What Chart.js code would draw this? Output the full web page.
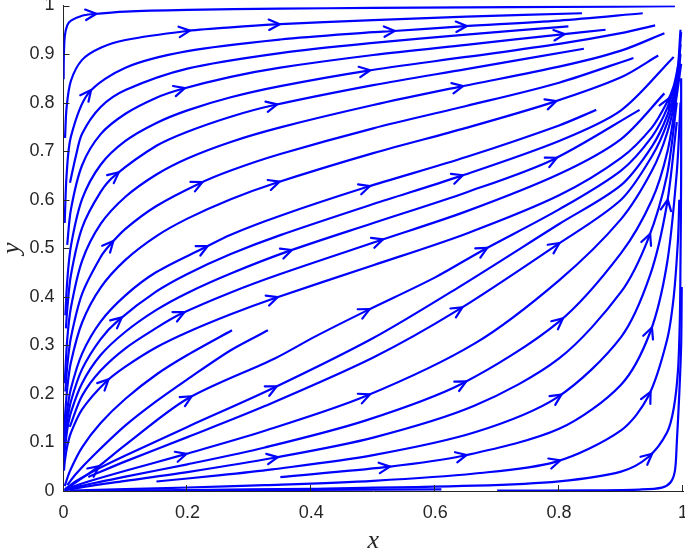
<!DOCTYPE html>
<html>
<head>
<meta charset="utf-8">
<script src="https://cdn.jsdelivr.net/npm/chart.js@4"></script>
<style>
  html, body { margin: 0; padding: 0; background: #fff; }
  #wrap { width: 685px; height: 551px; }
</style>
</head>
<body>
<div id="wrap"><canvas id="stream" width="685" height="551"></canvas></div>
<script>
// streamlines, [x, y] pairs
const curveA = [[0.0002,0.848],[0.0005,0.891],[0.002,0.936],[0.006,0.959],[0.012,0.969],[0.03,0.979],[0.045,0.982],[0.1,0.9875],[0.2,0.991],[0.35,0.9935],[0.5,0.995],[0.65,0.996],[0.8,0.997],[0.987,0.9985]];
const curveB = [[0.0025,0.727],[0.005,0.79],[0.012,0.845],[0.03,0.888],[0.06,0.913],[0.1,0.929],[0.196,0.947],[0.27,0.955],[0.341,0.961],[0.5,0.97],[0.65,0.977],[0.837,0.984]];
const curveC = [[0.0019,0.552],[0.005,0.651],[0.012,0.73],[0.0395,0.818],[0.1,0.872],[0.2,0.906],[0.35,0.93],[0.5,0.945],[0.527,0.947],[0.643,0.957],[0.8,0.969],[0.935,0.984]];
const curveD = [[0.0105,0.635],[0.02,0.69],[0.03,0.736],[0.06,0.791],[0.1,0.826],[0.2,0.87],[0.35,0.902],[0.5,0.923],[0.65,0.94],[0.815,0.957]];
const curveE = [[0.006,0.507],[0.012,0.58],[0.03,0.671],[0.06,0.735],[0.1,0.777],[0.15,0.81],[0.188,0.827],[0.27,0.853],[0.35,0.872],[0.5,0.898],[0.65,0.919],[0.801,0.94],[0.875,0.95]];
const curveF = [[0.003,0.362],[0.006,0.432],[0.012,0.505],[0.03,0.601],[0.06,0.672],[0.1,0.721],[0.15,0.758],[0.2,0.784],[0.27,0.811],[0.35,0.834],[0.487,0.865],[0.65,0.894],[0.8,0.921],[0.9,0.943],[0.955,0.959]];
const curveG = [[0.004,0.335],[0.006,0.374],[0.012,0.445],[0.03,0.542],[0.06,0.616],[0.083,0.65],[0.15,0.711],[0.2,0.74],[0.27,0.771],[0.337,0.794],[0.5,0.836],[0.65,0.869],[0.84,0.911]];
const curveH = [[0.002,0.222],[0.006,0.312],[0.012,0.378],[0.03,0.474],[0.06,0.55],[0.1,0.606],[0.15,0.652],[0.2,0.685],[0.27,0.719],[0.35,0.749],[0.5,0.795],[0.637,0.832],[0.8,0.874],[0.9,0.907],[0.97,0.943]];
const curveI = [[0.003,0.205],[0.006,0.257],[0.012,0.316],[0.03,0.406],[0.06,0.482],[0.075,0.507],[0.1,0.54],[0.15,0.587],[0.217,0.632],[0.27,0.66],[0.35,0.694],[0.5,0.747],[0.65,0.793],[0.8,0.841],[0.92,0.892]];
const curveJ = [[0.001,0.112],[0.002,0.144],[0.006,0.211],[0.012,0.265],[0.03,0.347],[0.06,0.419],[0.1,0.476],[0.15,0.525],[0.2,0.561],[0.27,0.601],[0.341,0.634],[0.5,0.696],[0.65,0.748],[0.788,0.8],[0.9,0.852],[0.96,0.897]];
const curveK = [[0.0005,0.065],[0.002,0.111],[0.006,0.166],[0.012,0.211],[0.03,0.283],[0.06,0.349],[0.1,0.403],[0.15,0.451],[0.2255,0.5],[0.27,0.528],[0.35,0.567],[0.487,0.625],[0.65,0.688],[0.8,0.753],[0.86,0.785]];
const curveL = [[0.004,0.125],[0.006,0.145],[0.012,0.185],[0.03,0.251],[0.06,0.313],[0.088,0.351],[0.15,0.411],[0.2,0.447],[0.27,0.488],[0.35,0.527],[0.5,0.591],[0.637,0.647],[0.8,0.721],[0.9,0.784],[0.985,0.894]];
const curveM = [[0.002,0.083],[0.006,0.126],[0.012,0.162],[0.03,0.222],[0.06,0.28],[0.1,0.328],[0.15,0.373],[0.2,0.408],[0.27,0.448],[0.361,0.493],[0.5,0.552],[0.65,0.615],[0.789,0.682],[0.93,0.785]];
const curveN = [[0.01,0.132],[0.03,0.196],[0.06,0.248],[0.1,0.294],[0.15,0.336],[0.188,0.364],[0.27,0.409],[0.35,0.447],[0.508,0.515],[0.65,0.576],[0.8,0.653],[0.9,0.725],[0.97,0.819]];
const curveO = [[0.0008,0.042],[0.002,0.06],[0.006,0.092],[0.012,0.12],[0.03,0.168],[0.067,0.223],[0.1,0.256],[0.15,0.296],[0.2,0.327],[0.27,0.364],[0.338,0.396],[0.5,0.465],[0.65,0.53],[0.8,0.609],[0.9,0.686],[0.95,0.749],[0.974,0.8],[0.985,0.834],[0.992,0.875]];
const curveW1 = [[0.002,0.01],[0.01,0.04],[0.03,0.09],[0.06,0.14],[0.1,0.19],[0.15,0.24],[0.2,0.28],[0.272,0.331]];
const curveW2 = [[0.006,0.012],[0.02,0.035],[0.05,0.075],[0.1,0.135],[0.15,0.185],[0.2,0.23],[0.27,0.29],[0.33,0.331]];
const curveP = [[0.003,0.004],[0.02,0.018],[0.051,0.045],[0.1,0.095],[0.2,0.19],[0.341,0.273],[0.406,0.318],[0.487,0.37],[0.6,0.44],[0.677,0.496],[0.8,0.58],[0.9,0.66],[0.95,0.73],[0.975,0.79],[0.99,0.855],[0.996,0.95]];
const curveQ = [[0.002,0.0032],[0.02,0.02],[0.051,0.0425],[0.1,0.073],[0.2,0.132],[0.337,0.211],[0.5,0.315],[0.637,0.419],[0.8,0.55],[0.9,0.63],[0.95,0.71],[0.975,0.775],[0.99,0.845],[0.997,0.945]];
const curveR = [[0.04,0.029],[0.1,0.061],[0.2,0.111],[0.325,0.175],[0.5,0.275],[0.637,0.373],[0.794,0.505],[0.9,0.6],[0.95,0.69],[0.975,0.76],[0.99,0.835],[0.996,0.92]];
const curveS = [[0.001,0.001],[0.01,0.0064],[0.04,0.0195],[0.1,0.0417],[0.191,0.0738],[0.325,0.124],[0.487,0.195],[0.664,0.304],[0.8,0.434],[0.9,0.56],[0.95,0.66],[0.975,0.74],[0.99,0.825],[0.996,0.9]];
const curveT5 = [[0.015,0.0062],[0.05,0.0165],[0.1,0.0295],[0.2,0.055],[0.325,0.0897],[0.487,0.145],[0.643,0.221],[0.8,0.349],[0.9,0.49],[0.95,0.6],[0.975,0.7],[0.99,0.815],[0.997,0.88]];
const curveT6 = [[0.003,0.0012],[0.01,0.0031],[0.051,0.012],[0.1,0.0209],[0.2,0.039],[0.338,0.068],[0.5,0.11],[0.664,0.176],[0.8,0.273],[0.9,0.41],[0.944,0.52],[0.974,0.65],[0.99,0.8]];
const curveT7 = [[0.15,0.0196],[0.25,0.032],[0.337,0.0445],[0.5,0.074],[0.664,0.121],[0.797,0.193],[0.9,0.317],[0.947,0.445],[0.974,0.59],[0.99,0.76]];
const curveT8 = [[0.35,0.0286],[0.519,0.049],[0.643,0.072],[0.8,0.128],[0.9,0.219],[0.947,0.327],[0.974,0.467],[0.99,0.657],[0.996,0.8]];
const curveT9 = [[0.01,0.0006],[0.1,0.0037],[0.2,0.0072],[0.325,0.012],[0.5,0.021],[0.664,0.036],[0.794,0.06],[0.9,0.125],[0.944,0.195],[0.974,0.31],[0.985,0.4],[0.992,0.52],[0.994,0.6]];
const curveT10 = [[0.062,0.0007],[0.2,0.0021],[0.4,0.0046],[0.664,0.011],[0.8,0.02],[0.9,0.04],[0.944,0.07],[0.974,0.12],[0.985,0.17],[0.992,0.25],[0.995,0.36],[0.996,0.48],[0.997,0.65],[0.997,0.85]];
const curveB3 = [[0.178,0.0015],[0.39,0.0025],[0.61,0.0035]];
const curveB5 = [[0.7,0.0008],[0.85,0.0015],[0.93,0.003],[0.966,0.007],[0.98,0.018],[0.987,0.042],[0.99,0.1],[0.994,0.2],[0.997,0.3],[0.998,0.42]];

// which point of each streamline carries an arrow head
const arrowsA = [6], arrowsB = [6, 8], arrowsC = [3, 8, 9], arrowsD = [];
const arrowsE = [6, 11], arrowsF = [10], arrowsG = [5, 9], arrowsH = [11];
const arrowsI = [5, 8], arrowsJ = [10, 13], arrowsK = [8, 11], arrowsL = [5, 11];
const arrowsM = [9, 12], arrowsN = [5, 8], arrowsO = [5, 10, 16], arrowsW1 = [], arrowsW2 = [];
const arrowsP = [2, 4, 7, 9], arrowsQ = [5], arrowsR = [5, 6], arrowsS = [4, 6], arrowsT5 = [6, 7];
const arrowsT6 = [5, 10], arrowsT7 = [5, 8], arrowsT8 = [1, 2, 5], arrowsT9 = [6, 8];
const arrowsT10 = [6], arrowsB3 = [], arrowsB5 = [];

const xTicks = [0, 0.2, 0.4, 0.6, 0.8, 1];
const yTicks = [0, 0.1, 0.2, 0.3, 0.4, 0.5, 0.6, 0.7, 0.8, 0.9, 1];

const curves = [curveA, curveB, curveC, curveD, curveE, curveF, curveG, curveH, curveI, curveJ,
  curveK, curveL, curveM, curveN, curveO, curveW1, curveW2, curveP, curveQ, curveR, curveS, curveT5, curveT6,
  curveT7, curveT8, curveT9, curveT10, curveB3, curveB5];
const arrowsAt = [arrowsA, arrowsB, arrowsC, arrowsD, arrowsE, arrowsF, arrowsG, arrowsH, arrowsI, arrowsJ,
  arrowsK, arrowsL, arrowsM, arrowsN, arrowsO, arrowsW1, arrowsW2, arrowsP, arrowsQ, arrowsR, arrowsS, arrowsT5, arrowsT6,
  arrowsT7, arrowsT8, arrowsT9, arrowsT10, arrowsB3, arrowsB5];

const blue = "#0000ff";
const axisGrey = "#262626";

// open chevron heads, centred on the marked point and oriented along the drawn spline
const arrowHeads = {
  id: "arrowHeads",
  afterDatasetsDraw(chart) {
    const c = chart.ctx;
    c.save();
    c.strokeStyle = blue;
    c.lineWidth = 2.2;
    c.lineCap = "round";
    c.lineJoin = "round";
    arrowsAt.forEach((list, k) => {
      const pts = chart.getDatasetMeta(k).data;
      list.forEach(i => {
        const p = pts[i];
        if (!p) return;
        let dx = p.cp2x - p.cp1x, dy = p.cp2y - p.cp1y;
        if (!isFinite(dx) || (dx === 0 && dy === 0)) {
          const q = pts[Math.min(i + 1, pts.length - 1)], r = pts[Math.max(i - 1, 0)];
          dx = q.x - r.x; dy = q.y - r.y;
        }
        const ang = Math.atan2(dy, dx);
        const len = 12, spread = 0.45;
        const tx = p.x + 5 * Math.cos(ang), ty = p.y + 5 * Math.sin(ang);
        c.beginPath();
        c.moveTo(tx - len * Math.cos(ang - spread), ty - len * Math.sin(ang - spread));
        c.lineTo(tx, ty);
        c.lineTo(tx - len * Math.cos(ang + spread), ty - len * Math.sin(ang + spread));
        c.stroke();
      });
    });
    c.restore();
  }
};

// MATLAB style ticks pointing into the axes
const innerTicks = {
  id: "innerTicks",
  afterDraw(chart) {
    const { ctx, chartArea, scales } = chart;
    ctx.save();
    ctx.strokeStyle = axisGrey;
    ctx.lineWidth = 1;
    ctx.beginPath();
    xTicks.forEach(v => {
      const px = Math.round(scales.x.getPixelForValue(v)) - 0.5;
      ctx.moveTo(px, chartArea.bottom);
      ctx.lineTo(px, chartArea.bottom - 6);
    });
    yTicks.forEach(v => {
      const py = Math.round(scales.y.getPixelForValue(v)) + 0.5;
      ctx.moveTo(chartArea.left, py);
      ctx.lineTo(chartArea.left + 6, py);
    });
    ctx.stroke();
    ctx.restore();
  }
};

const fmt = v => String(Math.round(v * 10) / 10);

new Chart(document.getElementById("stream"), {
  type: "scatter",
  data: {
    datasets: curves.map(pts => ({
      data: pts.map(p => ({ x: p[0], y: p[1] })),
      showLine: true,
      borderColor: blue,
      borderWidth: 2.2,
      pointRadius: 0,
      tension: 0.3,
      fill: false
    }))
  },
  options: {
    responsive: false,
    animation: false,
    devicePixelRatio: 1,
    layout: { autoPadding: false, padding: { left: 0, right: 2, top: 5.5, bottom: 0 } },
    plugins: { legend: { display: false }, tooltip: { enabled: false } },
    scales: {
      x: {
        type: "linear",
        min: 0,
        max: 1,
        afterBuildTicks: s => { s.ticks = xTicks.map(v => ({ value: v })); },
        afterFit: s => { s.height = 60; s.paddingLeft = 0; s.paddingRight = 0; },
        grid: { display: false, drawTicks: false },
        border: { display: true, color: axisGrey, width: 1 },
        ticks: { callback: fmt, color: axisGrey, padding: 11, maxRotation: 0, font: { family: "Liberation Sans", size: 18 } },
        title: { display: true, text: "x", color: axisGrey, padding: { top: 0, bottom: -3 },
                 font: { family: "Liberation Serif", style: "italic", size: 26, lineHeight: 1 } }
      },
      y: {
        type: "linear",
        min: 0,
        max: 1,
        afterBuildTicks: s => { s.ticks = yTicks.map(v => ({ value: v })); },
        afterFit: s => { s.width = 63.5; s.paddingTop = 0; s.paddingBottom = 0; },
        grid: { display: false, drawTicks: false },
        border: { display: true, color: axisGrey, width: 1 },
        ticks: { callback: fmt, color: axisGrey, padding: 9, font: { family: "Liberation Sans", size: 18 } },
        title: { display: true, text: "y", color: axisGrey, padding: { top: -1, bottom: 0 },
                 font: { family: "Liberation Serif", style: "italic", size: 26, lineHeight: 1 } }
      }
    }
  },
  plugins: [arrowHeads, innerTicks]
});
</script>
</body>
</html>
